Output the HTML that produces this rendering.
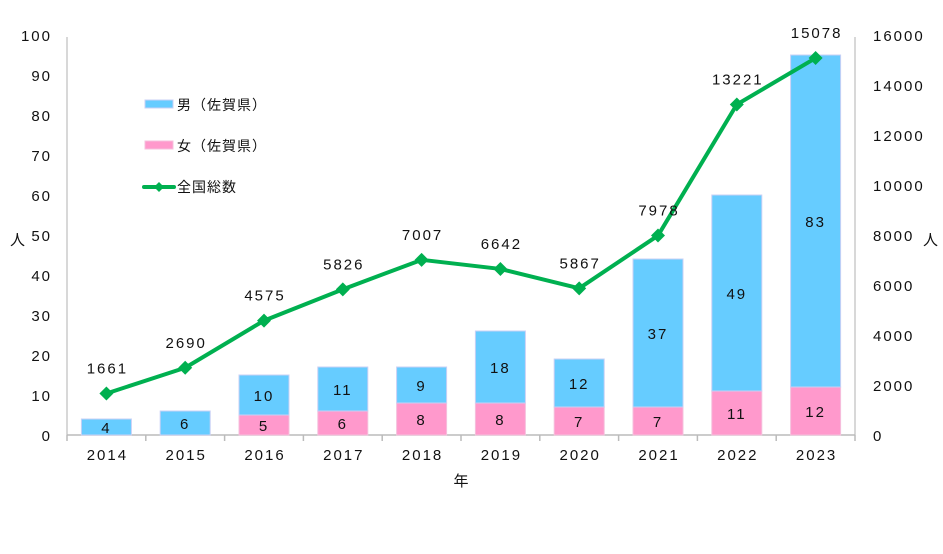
<!DOCTYPE html>
<html><head><meta charset="utf-8"><style>
body{margin:0;background:#fff;width:943px;height:549px;overflow:hidden}
svg text{font-family:"Liberation Sans","Noto Sans CJK JP",sans-serif;fill:#111;font-size:15px;letter-spacing:2px}
</style></head><body>
<svg id="c" width="943" height="549"></svg>
<script>
const years=["2014","2015","2016","2017","2018","2019","2020","2021","2022","2023"];
const male=[4,6,10,11,9,18,12,37,49,83];
const female=[0,0,5,6,8,8,7,7,11,12];
const national=[1661,2690,4575,5826,7007,6642,5867,7978,13221,15078];
const leftTicks=[0,10,20,30,40,50,60,70,80,90,100];
const rightTicks=[0,2000,4000,6000,8000,10000,12000,14000,16000];
const svg=document.getElementById('c');
const NS='http://www.w3.org/2000/svg';
const X0=67,X1=855,Y0=435,Y1=35;
const bw=(X1-X0)/years.length;
const xc=i=>X0+bw*(i+0.5);
const yL=v=>Y0-(Y0-Y1)*v/100;
const yR=v=>Y0-(Y0-Y1)*v/16000;
function el(t,a,txt){const e=document.createElementNS(NS,t);for(const k in a)e.setAttribute(k,a[k]);if(txt!==undefined)e.textContent=txt;svg.appendChild(e);return e;}
let e;
e=el('line',{x1:X0,y1:Y1+2,x2:X0,y2:Y0,stroke:'#ccc','stroke-width':1.5});


e=el('line',{x1:X1,y1:Y1+2,x2:X1,y2:Y0,stroke:'#ccc','stroke-width':1.5});


e=el('line',{x1:X0,y1:Y0,x2:X1,y2:Y0,stroke:'#bbb','stroke-width':1.5});


for(let i=0;i<=years.length;i++){e=el('line',{x1:X0+bw*i,y1:Y0,x2:X0+bw*i,y2:Y0+6,stroke:'#bbb','stroke-width':1.5});

}
leftTicks.forEach(v=>{e=el('text',{x:52,y:yL(v)+6,'text-anchor':'end'},v);

});
rightTicks.forEach(v=>{e=el('text',{x:873,y:yR(v)+6},v);

});
e=el('text',{x:10,y:245},'人');


e=el('text',{x:923,y:245},'人');


e=el('text',{x:462,y:486,'text-anchor':'middle'},'年');


years.forEach((y,i)=>{
 const x=xc(i)-25;
 if(female[i]>0){e=el('rect',{x:x,y:yL(female[i]),width:50,height:Y0-yL(female[i]),fill:'#ff99cc',stroke:'#f5c0dd'});
 
 
 e=el('text',{x:xc(i),y:(yL(female[i])+Y0)/2+6,'text-anchor':'middle'},female[i]);
 
 }
 const top=yL(female[i]+male[i]);
 e=el('rect',{x:x,y:top,width:50,height:yL(female[i])-top,fill:'#66ccff',stroke:'#c8d0f5'});
 
 
 e=el('text',{x:xc(i),y:(top+yL(female[i]))/2+6,'text-anchor':'middle'},male[i]);
 
 
 e=el('text',{x:xc(i)+1,y:Y0+25,'text-anchor':'middle'},y);
 
 
});
e=el('polyline',{points:national.map((v,i)=>xc(i)+','+yR(v)).join(' '),fill:'none',stroke:'#00b050','stroke-width':4,'stroke-linejoin':'round'});


national.forEach((v,i)=>{
 const x=xc(i),y=yR(v);
 e=el('polygon',{points:`${x},${y-7} ${x+7},${y} ${x},${y+7} ${x-7},${y}`,fill:'#00b050'});
 
 
 e=el('text',{x:x+1,y:y-20,'text-anchor':'middle'},v);
 
 
});
// legend
e=el('rect',{x:145,y:100,width:28,height:8,fill:'#66ccff',stroke:'#c8d0f5'});


e=el('text',{x:177,y:110,style:'font-size:14px;letter-spacing:1px'},'男（佐賀県）');


e=el('rect',{x:145,y:141,width:28,height:8,fill:'#ff99cc',stroke:'#f5c0dd'});


e=el('text',{x:177,y:151,style:'font-size:14px;letter-spacing:1px'},'女（佐賀県）');


e=el('line',{x1:144,y1:187,x2:174,y2:187,stroke:'#00b050','stroke-width':4,'stroke-linecap':'round'});


e=el('polygon',{points:'159,182 164,187 159,192 154,187',fill:'#00b050'});


e=el('text',{x:177,y:192,style:'font-size:14px;letter-spacing:1px'},'全国総数');


</script>
</body></html>
